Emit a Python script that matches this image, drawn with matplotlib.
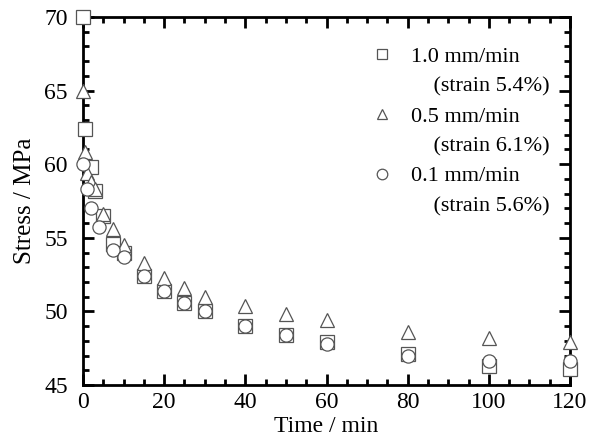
import numpy as np
import matplotlib.pyplot as plt
from matplotlib.lines import Line2D
from matplotlib.ticker import MultipleLocator

plt.rcParams['font.family'] = ['Liberation Serif', 'DejaVu Serif']

# 1.0 mm/min (strain 5.4%)
t_10 = [0, 0.5, 2, 3, 5, 7.5, 10, 15, 20, 25, 30, 40, 50, 60, 80, 100, 120]
s_10 = [70.0, 62.4, 59.8, 58.2, 56.5, 54.6, 54.0, 52.4, 51.4, 50.6, 50.0, 49.0, 48.4, 47.9, 47.1, 46.3, 46.1]

# 0.5 mm/min (strain 6.1%)
t_05 = [0, 0.5, 1, 2, 3, 5, 7.5, 10, 15, 20, 25, 30, 40, 50, 60, 80, 100, 120]
s_05 = [65.0, 60.8, 59.4, 58.8, 58.3, 56.6, 55.6, 54.5, 53.3, 52.3, 51.6, 51.0, 50.4, 49.8, 49.4, 48.6, 48.2, 47.9]

# 0.1 mm/min (strain 5.6%)
t_01 = [0, 1, 2, 4, 7.5, 10, 15, 20, 25, 30, 40, 50, 60, 80, 100, 120]
s_01 = [60.0, 58.3, 57.0, 55.7, 54.2, 53.7, 52.4, 51.4, 50.6, 50.0, 49.0, 48.4, 47.8, 47.0, 46.6, 46.6]

rates = ['1.0 mm/min', '0.5 mm/min', '0.1 mm/min']
strains = ['(strain 5.4%)', '(strain 6.1%)', '(strain 5.6%)']

fig = plt.figure(figsize=(6.08, 4.41), dpi=100)
ax = fig.add_axes([83/608, 56/441, 487/608, 368/441])

ec = '#555555'
kw = dict(ms=9.5, mfc='white', mec=ec, mew=0.9, ls='none', clip_on=False, zorder=3)
h1, = ax.plot(t_10, s_10, marker='s', **kw)
h2, = ax.plot(t_05, s_05, marker='^', **kw)
h3, = ax.plot(t_01, s_01, marker='o', **kw)

ax.set_xlim(0, 120)
ax.set_ylim(45, 70)
ax.xaxis.set_major_locator(MultipleLocator(20))
ax.xaxis.set_minor_locator(MultipleLocator(5))
ax.yaxis.set_major_locator(MultipleLocator(5))
ax.yaxis.set_minor_locator(MultipleLocator(1))
ax.tick_params(which='both', direction='in', top=True, right=True, width=2, labelsize=17)
ax.tick_params(which='major', length=8)
ax.tick_params(which='minor', length=4)
ax.tick_params(axis='x', pad=5)
ax.tick_params(axis='y', pad=11)
for sp in ax.spines.values():
    sp.set_linewidth(2)

ax.set_xlabel('Time / min', fontsize=17, labelpad=2)
ax.set_ylabel('Stress / MPa', fontsize=18, labelpad=6)

# legend: rate line with marker, strain line indented without marker
blank = Line2D([], [], ls='none')
handles, labels = [], []
for h, r, s in zip([h1, h2, h3], rates, strains):
    handles += [h, blank]
    labels += [r, '    ' + s]
leg = ax.legend(handles, labels, loc='upper right', bbox_to_anchor=(1.0, 0.975), frameon=False,
                fontsize=16, markerscale=0.8, handletextpad=0.8, labelspacing=0.42, handlelength=1.0)

fig.savefig('out.png', dpi=100)
